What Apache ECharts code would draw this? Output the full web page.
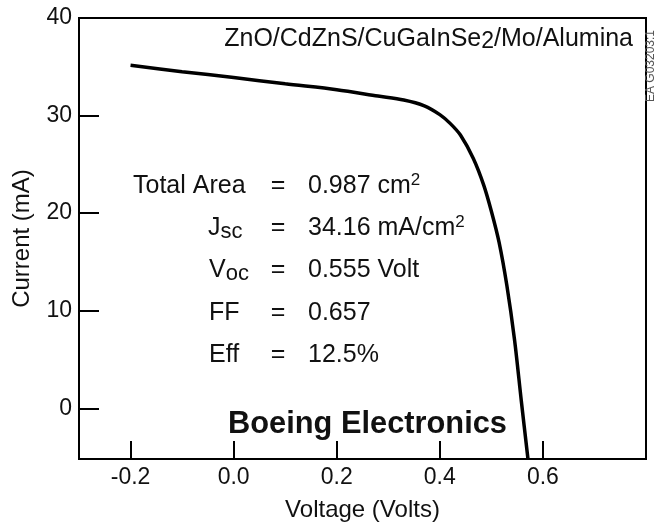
<!DOCTYPE html>
<html>
<head>
<meta charset="utf-8">
<script src="https://cdn.jsdelivr.net/npm/echarts@6/dist/echarts.min.js"></script>
<style>
html,body{margin:0;padding:0;background:#fff;}
#chart{width:658px;height:527px;}
</style>
</head>
<body>
<div id="chart"></div>
<script>
// Data
var voltage = [-0.2, -0.1, 0.0, 0.1, 0.2, 0.28, 0.33, 0.37, 0.40, 0.42, 0.44, 0.465, 0.485, 0.50, 0.515, 0.53, 0.545, 0.558, 0.571];
var current = [35.15, 34.5, 33.9, 33.25, 32.65, 32.0, 31.6, 31.0, 30.1, 29.2, 28.0, 25.6, 22.9, 20.2, 17.0, 12.6, 7.0, 0.8, -5.2];
var xTicks = [-0.2, 0.0, 0.2, 0.4, 0.6];
var yTicks = [0, 10, 20, 30, 40];
var statLabels = ['Total Area', 'J{sub|sc}', 'V{sub|oc}', 'FF', 'Eff'];
var statValues = ['0.987 cm{sup|2}', '34.16 mA/cm{sup|2}', '0.555 Volt', '0.657', '12.5%'];
var titleText = 'ZnO/CdZnS/CuGaInSe{sub|2}/Mo/Alumina';
var brandText = 'Boeing Electronics';

var FONT = '"Liberation Sans", Arial, Helvetica, sans-serif';
var INK = '#111';

var chart = echarts.init(document.getElementById('chart'), null, {renderer: 'canvas'});

var seriesData = voltage.map(function (v, i) { return [v, current[i]]; });

var richBase = {
  sub: {fontSize: 22, lineHeight: 22, verticalAlign: 'bottom', fontFamily: FONT, fill: INK},
  sup: {fontSize: 17, lineHeight: 17, verticalAlign: 'top', fontFamily: FONT, fill: INK}
};

var graphics = [];
var rowY = [186, 228, 270, 313, 355];
var labelX = [133, 208, 209, 209, 209];
for (var i = 0; i < statLabels.length; i++) {
  graphics.push({
    type: 'text', x: labelX[i], y: rowY[i],
    style: {text: statLabels[i], fontSize: 25, lineHeight: 29, fontFamily: FONT, fill: INK,
      align: 'left', verticalAlign: 'middle', rich: richBase}
  });
  graphics.push({
    type: 'text', x: 278, y: rowY[i],
    style: {text: '=', fontSize: 25, lineHeight: 29, fontFamily: FONT, fill: INK,
      align: 'center', verticalAlign: 'middle'}
  });
  graphics.push({
    type: 'text', x: 308, y: rowY[i],
    style: {text: statValues[i], fontSize: 25, lineHeight: 29, fontFamily: FONT, fill: INK,
      align: 'left', verticalAlign: 'middle', rich: richBase}
  });
}
graphics.push({
  type: 'text', x: 633, y: 39,
  style: {text: titleText, fontSize: 25, lineHeight: 29, fontFamily: FONT, fill: INK,
    align: 'right', verticalAlign: 'middle',
    rich: {sub: {fontSize: 23, lineHeight: 23, verticalAlign: 'bottom', fontFamily: FONT, fill: INK}}}
});
graphics.push({
  type: 'text', x: 228, y: 425,
  style: {text: brandText, fontSize: 30.8, fontWeight: 'bold', fontFamily: FONT, fill: INK,
    align: 'left', verticalAlign: 'middle'}
});
graphics.push({
  type: 'text', x: 651, y: 66, rotation: Math.PI / 2,
  style: {text: 'EA G03203:1', fontSize: 12, fontFamily: FONT, fill: '#555',
    align: 'center', verticalAlign: 'middle'}
});

var option = {
  animation: false,
  backgroundColor: '#fff',
  grid: {left: 79, top: 18, right: 12, bottom: 61, show: true, borderColor: '#000', borderWidth: 2, containLabel: false},
  xAxis: {
    type: 'value', min: -0.3, max: 0.8,
    name: 'Voltage (Volts)', nameLocation: 'middle', nameGap: 39,
    nameTextStyle: {fontSize: 24, fontFamily: FONT, color: INK},
    axisLine: {show: true, onZero: false, lineStyle: {color: '#000', width: 2}},
    axisTick: {show: true, inside: true, length: 18, customValues: xTicks, lineStyle: {color: '#000', width: 2}},
    axisLabel: {customValues: xTicks, fontSize: 23, fontFamily: FONT, color: INK, margin: 7,
      formatter: function (v) { return Number(v).toFixed(1); }},
    splitLine: {show: false}
  },
  yAxis: {
    type: 'value', min: -5.2, max: 40,
    name: 'Current (mA)', nameLocation: 'middle', nameGap: 45,
    nameTextStyle: {fontSize: 24, fontFamily: FONT, color: INK},
    axisLine: {show: true, onZero: false, lineStyle: {color: '#000', width: 2}},
    axisTick: {show: true, inside: true, length: 20, customValues: yTicks, lineStyle: {color: '#000', width: 2}},
    axisLabel: {customValues: yTicks, fontSize: 23, fontFamily: FONT, color: INK, margin: 7,
      formatter: function (v) { return String(Math.round(v)); }},
    splitLine: {show: false}
  },
  series: [{
    type: 'line', data: seriesData, smooth: 0.3, showSymbol: false, symbol: 'none',
    clip: true, lineStyle: {color: '#000', width: 3.5}
  }],
  graphic: graphics
};
chart.setOption(option);
</script>
</body>
</html>
